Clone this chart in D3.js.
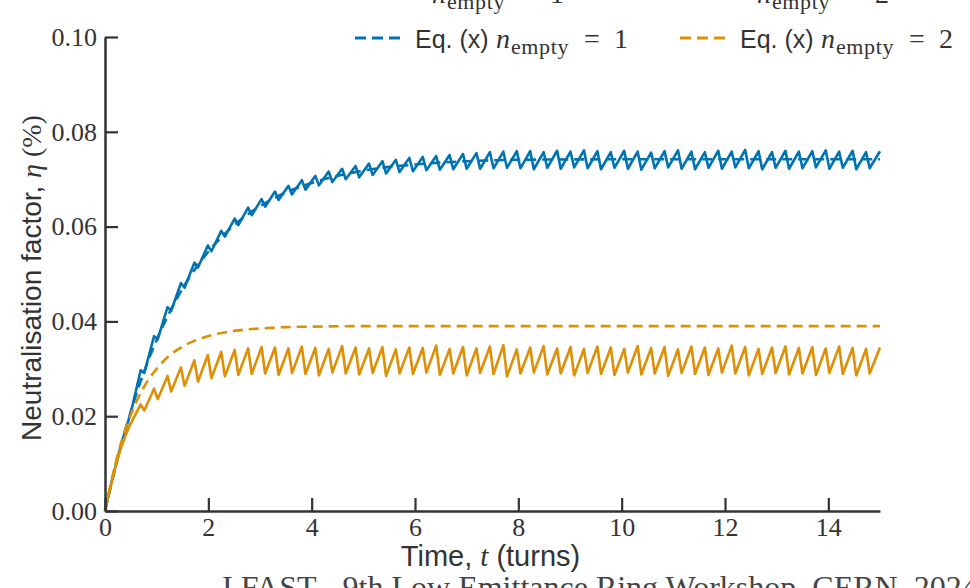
<!DOCTYPE html>
<html>
<head>
<meta charset="utf-8">
<script src="https://cdn.jsdelivr.net/npm/d3@7"></script>
<style>
  body { margin: 0; background: #fff; }
  svg { display: block; }
</style>
</head>
<body>
<div id="chart"></div>
<script>
// time axis ticks (turns) and eta ticks (%)
var xTicks = [0, 2, 4, 6, 8, 10, 12, 14];
var yTicks = [0.00, 0.02, 0.04, 0.06, 0.08, 0.10];

// Eq. (x) curves
var eqT      = [0, 0.25, 0.5, 0.75, 1, 1.25, 1.5, 2, 2.5, 3, 3.5, 4, 5, 6, 7, 8, 10, 12, 15];
var eqBlue   = [0, .0114, .0210, .0292, .0361, .0419, .0469, .0547, .0603, .0643, .0672, .0692, .0718, .0731, .0738, .0741, .0742, .0742, .0742];
var eqOrange = [0, .0120, .0203, .0261, .0300, .0328, .0347, .0369, .0380, .0385, .0388, .0389, .0390, .0390, .0390, .0390, .0390, .0390, .0390];

// simulation: initial ramp, then one sawtooth tooth per entry of toothT
var rampT      = [0, 0.1, 0.2, 0.3, 0.4];
var rampBlue   = [0, .0048, .0093, .0135, .0173];
var rampOrange = [0, .0048, .0092, .0130, .0160];

var toothT = [0.50,0.76,1.02,1.28,1.54,1.80,2.06,2.32,2.58,2.84,
              3.10,3.36,3.62,3.88,4.14,4.40,4.66,4.92,5.18,5.44,
              5.70,5.96,6.22,6.48,6.74,7.00,7.26,7.52,7.78,8.04,
              8.30,8.56,8.82,9.08,9.34,9.60,9.86,10.12,10.38,10.64,
              10.90,11.16,11.42,11.68,11.94,12.20,12.46,12.72,12.98,13.24,
              13.50,13.76,14.02,14.28,14.54,14.80];

var blueLow  = [.0207,.0291,.0362,.0422,.0471,.0514,.0548,.0579,.0603,.0624,
                .0642,.0656,.0668,.0678,.0687,.0694,.0700,.0704,.0709,.0712,
                .0715,.0717,.0719,.0720,.0721,.0722,.0722,.0723,.0724,.0723,
                .0721,.0724,.0722,.0725,.0723,.0721,.0724,.0722,.0720,.0723,
                .0725,.0722,.0721,.0724,.0722,.0725,.0723,.0721,.0724,.0722,
                .0723,.0725,.0722,.0724,.0721,.0723];
var blueHigh = [.0297,.0369,.0430,.0481,.0524,.0560,.0591,.0617,.0640,.0658,
                .0674,.0686,.0698,.0707,.0716,.0722,.0728,.0733,.0738,.0741,
                .0745,.0747,.0749,.0751,.0753,.0755,.0757,.0758,.0759,.0759,
                .0757,.0760,.0758,.0761,.0759,.0757,.0760,.0758,.0756,.0759,
                .0761,.0758,.0757,.0760,.0758,.0762,.0759,.0757,.0760,.0758,
                .0759,.0761,.0758,.0760,.0757,.0759];

var orangeLow  = [.0185,.0212,.0236,.0252,.0264,.0273,.0280,.0284,.0287,.0289,
                  .0290,.0287,.0291,.0289,.0286,.0292,.0290,.0288,.0291,.0285,
                  .0290,.0289,.0292,.0287,.0290,.0286,.0291,.0289,.0284,.0290,
                  .0292,.0288,.0290,.0286,.0291,.0289,.0287,.0292,.0288,.0290,
                  .0285,.0291,.0289,.0287,.0292,.0290,.0286,.0289,.0291,.0288,
                  .0290,.0287,.0291,.0289,.0286,.0290];
var orangeHigh = [.0225,.0258,.0285,.0303,.0318,.0329,.0336,.0340,.0343,.0346,
                  .0345,.0343,.0347,.0344,.0342,.0348,.0345,.0343,.0346,.0341,
                  .0345,.0344,.0349,.0342,.0346,.0343,.0347,.0350,.0341,.0345,
                  .0348,.0343,.0346,.0342,.0347,.0345,.0342,.0348,.0344,.0346,
                  .0341,.0347,.0345,.0343,.0349,.0346,.0342,.0345,.0347,.0344,
                  .0346,.0343,.0347,.0344,.0342,.0345];

var blue = "#0173b2", orange = "#de8f05", ink = "#333";
var width = 970, height = 588;
var plotLeft = 105, plotRight = 880, plotTop = 37, plotBottom = 511;
var tEnd = 15, drop = 0.07;

var x = d3.scaleLinear().domain([0, 15]).range([plotLeft, plotRight]);
var y = d3.scaleLinear().domain([0, 0.10]).range([plotBottom, plotTop]);

function simPoints(ramp, low, high) {
    var pts = rampT.map(function(t, i) { return [t, ramp[i]]; });
    toothT.forEach(function(t, i) {
        pts.push([t, low[i]]);
        var tp = i < toothT.length - 1 ? toothT[i + 1] - drop : tEnd;
        pts.push([tp, high[i]]);
    });
    return pts;
}
function eqPoints(vals) {
    return eqT.map(function(t, i) { return [t, vals[i]]; });
}

var svg = d3.select("#chart").append("svg")
    .attr("width", width)
    .attr("height", height)
    .style("background", "#fff");

// footer, partly cut by the bottom of the frame
svg.append("text")
    .attr("x", 222).attr("y", 598)
    .style("font-family", "Liberation Serif")
    .style("font-size", "32px")
    .style("fill", "#444")
    .text("I.FAST - 9th Low Emittance Ring Workshop, CERN, 2024");

var simLine = d3.line()
    .x(function(d) { return x(d[0]); })
    .y(function(d) { return y(d[1]); });
var eqLine = d3.line()
    .curve(d3.curveMonotoneX)
    .x(function(d) { return x(d[0]); })
    .y(function(d) { return y(d[1]); });

var plot = svg.append("g");
plot.append("path").datum(simPoints(rampBlue, blueLow, blueHigh))
    .attr("d", simLine).attr("fill", "none").attr("stroke", blue)
    .attr("stroke-width", 2.6).attr("stroke-linejoin", "round");
plot.append("path").datum(eqPoints(eqBlue))
    .attr("d", eqLine).attr("fill", "none").attr("stroke", blue)
    .attr("stroke-width", 2.6).attr("stroke-dasharray", "10,6");
plot.append("path").datum(simPoints(rampOrange, orangeLow, orangeHigh))
    .attr("d", simLine).attr("fill", "none").attr("stroke", orange)
    .attr("stroke-width", 2.6).attr("stroke-linejoin", "round");
plot.append("path").datum(eqPoints(eqOrange))
    .attr("d", eqLine).attr("fill", "none").attr("stroke", orange)
    .attr("stroke-width", 2.6).attr("stroke-dasharray", "10,6");

// axes, ticks pointing inwards
var yAxis = svg.append("g")
    .attr("transform", "translate(" + plotLeft + ",0)")
    .call(d3.axisLeft(y).tickValues(yTicks).tickFormat(d3.format(".2f"))
        .tickSizeInner(-13).tickSizeOuter(0).tickPadding(8));
var xAxis = svg.append("g")
    .attr("transform", "translate(0," + plotBottom + ")")
    .call(d3.axisBottom(x).tickValues(xTicks).tickFormat(d3.format("d"))
        .tickSizeInner(-13).tickSizeOuter(0).tickPadding(7));

[yAxis, xAxis].forEach(function(ax) {
    ax.select(".domain").attr("stroke", ink).attr("stroke-width", 2.5);
    ax.selectAll(".tick line").attr("stroke", ink).attr("stroke-width", 2.2);
    ax.selectAll(".tick text")
        .style("font-family", "Liberation Serif")
        .style("font-size", "26px")
        .attr("fill", ink);
});

// axis titles
var yt = svg.append("text")
    .attr("transform", "translate(41," + ((plotTop + plotBottom) / 2 + 4) + ") rotate(-90)")
    .attr("text-anchor", "middle")
    .style("font-family", "Liberation Sans")
    .style("font-size", "28px")
    .attr("fill", ink);
yt.append("tspan").text("Neutralisation factor, ");
yt.append("tspan").style("font-family", "Liberation Serif").style("font-style", "italic").text("η");
yt.append("tspan").style("font-family", "Liberation Serif").text(" (%)");

var xt = svg.append("text")
    .attr("x", (plotLeft + plotRight) / 2 - 2).attr("y", 566)
    .attr("text-anchor", "middle")
    .style("font-family", "Liberation Sans")
    .style("font-size", "29px")
    .attr("fill", ink);
xt.append("tspan").text("Time, ");
xt.append("tspan").style("font-family", "Liberation Serif").style("font-style", "italic").text("t");
xt.append("tspan").text(" (turns)");

// legend (top row is clipped by the frame)
function mathRow(g, x0, yb, prefix, n) {
    var mx = x0;
    if (prefix) {
        g.append("text").attr("x", x0).attr("y", yb)
            .style("font-family", "Liberation Sans").style("font-size", "25px")
            .attr("fill", ink).text(prefix);
        mx = x0 + 81;
    }
    var serif = function(sel, size) {
        return sel.style("font-family", "Liberation Serif").style("font-size", size).attr("fill", ink);
    };
    serif(g.append("text"), "28px").attr("x", mx).attr("y", yb)
        .style("font-style", "italic").text("n");
    serif(g.append("text"), "22px").attr("x", mx + 15).attr("y", yb + 6)
        .style("letter-spacing", "0.6px").text("empty");
    serif(g.append("text"), "28px").attr("x", mx + 88).attr("y", yb).text("=");
    serif(g.append("text"), "28px").attr("x", mx + 118).attr("y", yb).text(n);
}

var legendItems = [
    {x: 355, color: blue, n: 1},
    {x: 680, color: orange, n: 2}
];
legendItems.forEach(function(d) {
    var g = svg.append("g").attr("transform", "translate(" + d.x + ",0)");
    // simulation row, mostly above the frame
    g.append("line").attr("x1", 0).attr("x2", 50).attr("y1", -10).attr("y2", -10)
        .attr("stroke", d.color).attr("stroke-width", 2.6);
    mathRow(g, 77, 3, null, d.n);
    // Eq. row
    g.append("line").attr("x1", 0).attr("x2", 50).attr("y1", 38).attr("y2", 38)
        .attr("stroke", d.color).attr("stroke-width", 2.8).attr("stroke-dasharray", "11,6");
    mathRow(g, 60, 48, "Eq. (x) ", d.n);
});
</script>
</body>
</html>
